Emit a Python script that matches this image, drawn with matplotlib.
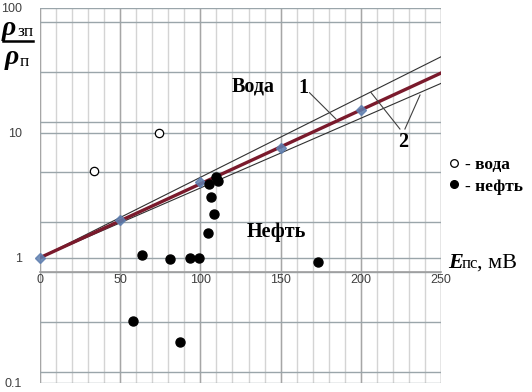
import matplotlib
matplotlib.use("Agg")
import matplotlib.pyplot as plt
from matplotlib.lines import Line2D

# main trend line 1 and the two bounding lines 2
line_x = [0, 250]
line1_y = [1, 30]
upper_y = [1, 40.5]
lower_y = [1, 24.8]

# points on line 1
diam_x = [0, 50, 100, 150, 200]
diam_y = [1, 2.0, 4.0, 7.5, 15.3]

# water points
voda_x = [33.5, 74.5]
voda_y = [4.95, 9.9]

# oil points
neft_x = [58, 63.5, 81, 87.3, 93.5, 99, 104.5, 105.4, 106.6, 108.5, 109.7, 111, 173.3]
neft_y = [0.31, 1.06, 0.98, 0.21, 1.0, 1.0, 1.58, 3.9, 3.05, 2.24, 4.4, 4.1, 0.93]

# gridlines
x_major = [0, 50, 100, 150, 200, 250]
x_minor = list(range(0, 251, 10))
y_major = [0.1, 1, 10, 100]
y_minor = [0.122, 0.307, 0.773, 1.92, 4.87, 12.2, 30.7, 77]

# leader lines for labels 1 and 2
lead1 = ([168, 184.4], [20.9, 12.9])
lead2a = ([224.4, 206.3], [10.7, 21.0])
lead2b = ([227.5, 236.9], [10.7, 20.0])

W, H = 532, 392
fig = plt.figure(figsize=(W / 100, H / 100), dpi=100)
ax = fig.add_axes([40 / W, 1 - 382.7 / H, 401 / W, 375 / H])
ax.set_yscale("log")
ax.set_xlim(0, 250)
ax.set_ylim(0.1, 100)

for x in x_minor:
    ax.axvline(x, color="#d4d4d4", lw=1.0, zorder=0)
for x in x_major:
    ax.axvline(x, color="#a6a6a6", lw=1.0, zorder=0)
for y in y_minor + y_major:
    ax.axhline(y, color="#9aa5aa", lw=1.0, zorder=0)

for s in ["top", "right", "left"]:
    ax.spines[s].set_visible(False)
ax.spines["bottom"].set_position(("data", 0.773))
ax.spines["bottom"].set_color("#a0a0a0")
ax.spines["bottom"].set_linewidth(1.2)

ax.set_xticks(x_major)
ax.set_xticks([], minor=True)
ax.set_yticks(y_major)
ax.set_yticks([], minor=True)
ax.set_yticklabels(["0.1", "1", "10", "100"])
ax.tick_params(axis="both", length=0, labelsize=9, labelcolor="#404040")
ax.tick_params(axis="y", pad=13)
ax.tick_params(axis="x", pad=2)
for lab in ax.get_xticklabels() + ax.get_yticklabels():
    lab.set_fontfamily("Liberation Sans")

ax.plot(line_x, upper_y, color="#303030", lw=0.8, zorder=3)
ax.plot(line_x, lower_y, color="#303030", lw=0.8, zorder=3)
ax.plot(line_x, line1_y, color="#7a1a2c", lw=2.4, zorder=4)
ax.plot(diam_x, diam_y, ls="none", marker="D", ms=5.5, color="#5f7fb0",
        alpha=0.85, zorder=5, clip_on=False)

ax.plot(voda_x, voda_y, ls="none", marker="o", ms=6, mfc="white", mec="black",
        mew=0.9, zorder=6)
ax.plot(neft_x, neft_y, ls="none", marker="o", ms=6.5, color="black", zorder=6)

for lx, ly in (lead1, lead2a, lead2b):
    ax.plot(lx, ly, color="#404040", lw=0.8, zorder=7)

bold = dict(family="Liberation Serif", weight="bold", fontsize=14.5)
ax.text(133, 23.6, "Вода", ha="center", va="center", **bold)
ax.text(147.5, 1.61, "Нефть", ha="center", va="center", **bold)
ax.text(164, 22.8, "1", ha="center", va="center", **bold)
ax.text(226.7, 8.47, "2", ha="center", va="center", **bold)

# legend
handles = [
    Line2D([], [], ls="none", marker="o", ms=5.5, mfc="white", mec="black", mew=0.9),
    Line2D([], [], ls="none", marker="o", ms=5.5, color="black"),
]
fig.legend(handles, ["- вода", "- нефть"], loc="upper left",
           bbox_to_anchor=(450 / W, 1 - 157 / H), frameon=False,
           prop=dict(family="Liberation Serif", weight="bold", size=12.5),
           handlelength=0.5, handletextpad=0.35, labelspacing=0.3, borderpad=0,
           borderaxespad=0)

# x axis title
fig.text(448 / W, 1 - 268 / H, "E", family="Liberation Serif", weight="bold",
         style="italic", fontsize=16, va="baseline")
fig.text(462 / W, 1 - 268 / H, "пс", family="Liberation Serif", fontsize=12,
         va="baseline")
fig.text(477 / W, 1 - 268 / H, ", мВ", family="Liberation Serif", fontsize=16,
         va="baseline")

# y axis title as a fraction
fig.text(2 / W, 1 - 35 / H, "ρ", family="Liberation Serif", weight="bold",
         style="italic", fontsize=20, va="baseline")
fig.text(17 / W, 1 - 36 / H, "зп", family="Liberation Serif", fontsize=12.5,
         va="baseline")
fig.add_artist(Line2D([3 / W, 33 / W], [1 - 40.7 / H, 1 - 40.7 / H],
                      color="black", lw=1.8, transform=fig.transFigure))
fig.text(5 / W, 1 - 64 / H, "ρ", family="Liberation Serif", weight="bold",
         style="italic", fontsize=20, va="baseline")
fig.text(20 / W, 1 - 66 / H, "п", family="Liberation Serif", fontsize=12.5,
         va="baseline")

fig.savefig("out.png", dpi=100)
